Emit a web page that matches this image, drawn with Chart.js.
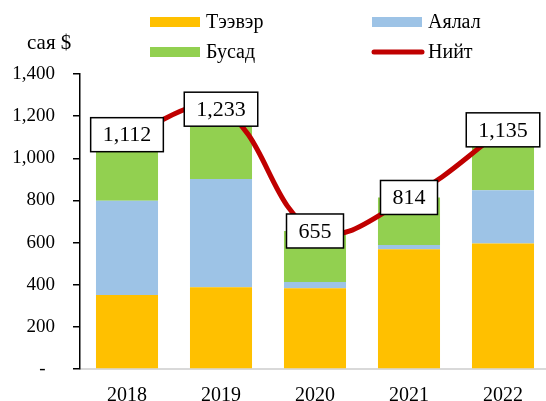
<!DOCTYPE html>
<html>
<head>
<meta charset="utf-8">
<script src="https://cdn.jsdelivr.net/npm/chart.js@4.4.1/dist/chart.umd.min.js"></script>
<style>
  html, body { margin: 0; padding: 0; background: #fff; overflow: hidden; }
  #wrap { width: 546px; height: 401px; overflow: hidden; }
</style>
</head>
<body>
<div id="wrap"><canvas id="chart" width="550" height="401"></canvas></div>
<script>
const years = ['2018', '2019', '2020', '2021', '2022'];
const transport = [351, 388, 383, 568, 596];
const travel = [447, 514, 30, 20, 252];
const other = [314, 331, 242, 226, 287];
const total = [1112, 1233, 655, 814, 1135];
const seriesNames = ['Тээвэр', 'Аялал', 'Бусад', 'Нийт'];
const unitLabel = 'сая $';

const serif = '"Liberation Serif", "Times New Roman", serif';

// white boxes with the total over each point of the line
const boxLabels = {
  id: 'boxLabels',
  afterDatasetsDraw(chart) {
    const ctx = chart.ctx;
    const meta = chart.getDatasetMeta(3);
    ctx.save();
    ctx.font = '22px ' + serif;
    ctx.textAlign = 'center';
    ctx.textBaseline = 'middle';
    meta.data.forEach((pt, i) => {
      const text = total[i].toLocaleString('en-US');
      const w = ctx.measureText(text).width + 24;
      const h = 34;
      ctx.fillStyle = '#fff';
      ctx.fillRect(pt.x - w / 2, pt.y - h / 2, w, h);
      ctx.strokeStyle = '#000';
      ctx.lineWidth = 1.5;
      ctx.strokeRect(pt.x - w / 2, pt.y - h / 2, w, h);
      ctx.fillStyle = '#000';
      ctx.fillText(text, pt.x, pt.y + 1);
    });
    ctx.restore();
  }
};

// two-column legend and unit label at the top
const topLegend = {
  id: 'topLegend',
  afterDraw(chart) {
    const ctx = chart.ctx;
    const spots = [[150, 22], [372, 22], [150, 52], [372, 52]];
    ctx.save();
    ctx.font = '20px ' + serif;
    ctx.textBaseline = 'middle';
    chart.data.datasets.forEach((ds, i) => {
      const [x, y] = spots[i];
      if (ds.type === 'line') {
        ctx.strokeStyle = ds.borderColor;
        ctx.lineWidth = 5;
        ctx.lineCap = 'round';
        ctx.beginPath();
        ctx.moveTo(x + 2, y);
        ctx.lineTo(x + 50, y);
        ctx.stroke();
      } else {
        ctx.fillStyle = ds.backgroundColor;
        ctx.fillRect(x, y - 5, 50, 10);
      }
      ctx.fillStyle = '#000';
      ctx.textAlign = 'left';
      ctx.fillText(ds.label, x + 56, y + 1);
    });
    ctx.font = '21px ' + serif;
    ctx.fillText(unitLabel, 27, 43);
    ctx.restore();
  }
};

new Chart(document.getElementById('chart').getContext('2d'), {
  data: {
    labels: years,
    datasets: [
      { type: 'bar', label: seriesNames[0], data: transport, backgroundColor: '#FFC000', order: 2 },
      { type: 'bar', label: seriesNames[1], data: travel, backgroundColor: '#9DC3E6', order: 2 },
      { type: 'bar', label: seriesNames[2], data: other, backgroundColor: '#92D050', order: 2 },
      {
        type: 'line', label: seriesNames[3], data: total, borderColor: '#C00000',
        borderWidth: 5, tension: 0.4, pointRadius: 0, fill: false, order: 1, stack: 'line'
      }
    ]
  },
  options: {
    responsive: false,
    animation: false,
    layout: { padding: { top: 74, left: 0, right: 0, bottom: 0 } },
    datasets: { bar: { barPercentage: 1, categoryPercentage: 0.66 } },
    scales: {
      x: {
        stacked: true,
        grid: { display: false },
        border: { color: '#D9D9D9', width: 2 },
        ticks: { color: '#000', font: { family: serif, size: 20 }, padding: 7 },
        afterFit(scale) { scale.height = 32; }
      },
      y: {
        stacked: true,
        min: 0,
        max: 1400,
        ticks: {
          stepSize: 200,
          color: '#000',
          padding: 18,
          font: { family: serif, size: 19 },
          callback: v => v === 0 ? '-  ' : v.toLocaleString('en-US')
        },
        grid: { drawOnChartArea: false, drawTicks: true, tickLength: 7, color: '#000', lineWidth: 1.5 },
        border: { color: '#000', width: 1.5 },
        afterFit(scale) { scale.width = 80; }
      }
    },
    plugins: {
      legend: { display: false },
      tooltip: { enabled: false }
    }
  },
  plugins: [boxLabels, topLegend]
});
</script>
</body>
</html>
